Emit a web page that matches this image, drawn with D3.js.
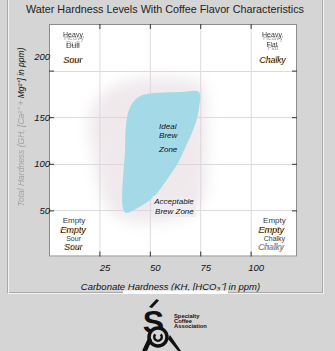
<!DOCTYPE html>
<html>
<head>
<meta charset="utf-8">
<script src="https://cdn.jsdelivr.net/npm/d3@7"></script>
<style>
  html, body { margin: 0; padding: 0; background: #d5d5d5; }
  svg { display: block; }
  text { font-family: "Liberation Sans", Arial, sans-serif; }
</style>
</head>
<body>
<svg id="chart" width="335" height="351"></svg>
<script>
// ---- Data ----------------------------------------------------------------
const titleText = "Water Hardness Levels With Coffee Flavor Characteristics";
const xTitle = "Carbonate Hardness (KH, [HCO₃⁻] in ppm)";
const yTitleFaint = "Total Hardness (GH, [Ca²⁺ + ";
const yTitleDark = "Mg²⁺] in ppm)";

const xTicks = [25, 50, 75, 100];
const yTicks = [50, 100, 150, 200];
const xDomain = [0, 123];
const yDomain = [0, 250];

// Ideal brew zone outline (KH ppm, GH ppm), clockwise from lower-left
const zoneKH = [37.7, 37.7, 38.2, 39.2, 41.7, 45.1, 50.1, 57.5, 66, 74.4, 74.4, 73.4, 71.4, 67.5, 64, 58.5, 51.6, 44];
const zoneGH = [48, 115, 141.6, 154.5, 166, 172.5, 175.4, 176.5, 177, 177, 160, 149, 136, 117, 101, 83, 64, 52.5];

// Acceptable brew zone haze around the ideal zone
const hazeKH = [20, 22, 25, 30, 40, 55, 68, 76, 78, 78, 76, 60, 42, 28];
const hazeGH = [150, 110, 75, 50, 38, 38, 45, 60, 100, 150, 185, 192, 190, 178];

// Zone labels (text, KH, GH baseline)
const zoneLabelText = ["Ideal", "Brew", "Zone"];
const zoneLabelKH = [54.6, 54.6, 54.6];
const zoneLabelGH = [137, 128, 113];
const acceptLabelText = ["Acceptable", "Brew Zone"];
const acceptLabelKH = [52.2, 52.6];
const acceptLabelGH = [57, 46];

// Flavour annotations in the four corners: text, KH, GH, size, style
const noteText  = ["Heavy", "Dull", "Sour",
                   "Heavy", "Flat", "Chalky",
                   "Empty", "Empty", "Sour", "Sour",
                   "Empty", "Empty", "Chalky", "Chalky"];
const noteKH    = [11.9, 11.9, 11.9,
                   110.6, 110.6, 111,
                   12.4, 12.0, 12.2, 12.2,
                   111.8, 110.3, 111.8, 110.3];
const noteGH    = [236, 224, 208,
                   236, 225.5, 208,
                   36, 25.5, 17, 8,
                   36, 25.5, 17.5, 7.5];
const noteSize  = [7, 8, 9,
                   7, 6.5, 8.5,
                   8, 9, 7, 8.5,
                   8, 9, 7, 8.3];
const noteStyle = ["doubleDown", "doubleUp", "italic",
                   "doubleDown", "doubleDown", "italic",
                   "plain", "italic", "plain", "italic",
                   "plain", "italic", "plain", "blue"];

const logoLines = ["Specialty", "Coffee", "Association"];

// ---- Layout --------------------------------------------------------------
const svg = d3.select("#chart");
const plot = { left: 49, right: 297, top: 24, bottom: 256.5 };

const x = d3.scaleLinear().domain(xDomain).range([plot.left, plot.right]);
const y = d3.scaleLinear().domain(yDomain).range([257, plot.top]);

const defs = svg.append("defs");
defs.append("filter").attr("id", "haze")
  .attr("x", "-30%").attr("y", "-30%").attr("width", "160%").attr("height", "160%")
  .append("feGaussianBlur").attr("stdDeviation", 7);
defs.append("clipPath").attr("id", "plotClip")
  .append("rect").attr("x", plot.left).attr("y", plot.top)
  .attr("width", plot.right - plot.left).attr("height", plot.bottom - plot.top);

// text effects: a faint doubled copy, and a coloured fringe on italic labels
function ghostFilter(id, dx, dy) {
  const f = defs.append("filter").attr("id", id)
    .attr("x", "-20%").attr("y", "-60%").attr("width", "140%").attr("height", "220%");
  f.append("feOffset").attr("in", "SourceAlpha").attr("dx", dx).attr("dy", dy).attr("result", "off");
  f.append("feFlood").attr("flood-color", "#8a8a8a").attr("flood-opacity", 0.85);
  f.append("feComposite").attr("in2", "off").attr("operator", "in").attr("result", "ghost");
  const m = f.append("feMerge");
  m.append("feMergeNode").attr("in", "ghost");
  m.append("feMergeNode").attr("in", "SourceGraphic");
}
ghostFilter("ghostDown", 1, 3);
ghostFilter("ghostUp", 0, -2.5);
(function fringe() {
  const f = defs.append("filter").attr("id", "fringe")
    .attr("x", "-20%").attr("y", "-40%").attr("width", "140%").attr("height", "180%");
  f.append("feOffset").attr("in", "SourceAlpha").attr("dx", -0.9).attr("dy", 0).attr("result", "off");
  f.append("feFlood").attr("flood-color", "#d9902e").attr("flood-opacity", 0.8);
  f.append("feComposite").attr("in2", "off").attr("operator", "in").attr("result", "edge");
  const m = f.append("feMerge");
  m.append("feMergeNode").attr("in", "edge");
  m.append("feMergeNode").attr("in", "SourceGraphic");
})();

// panel frame (etched border)
svg.append("rect").attr("x", 7.5).attr("y", -2).attr("width", 315).attr("height", 294.5)
  .attr("fill", "none").attr("stroke", "#a9a9a9");
svg.append("rect").attr("x", 8.5).attr("y", -1).attr("width", 315).attr("height", 294.5)
  .attr("fill", "none").attr("stroke", "#f3f3f3");

// title
svg.append("text").attr("x", 165).attr("y", 12.5)
  .attr("text-anchor", "middle").attr("font-size", 11).attr("fill", "#222")
  .attr("textLength", 278).attr("lengthAdjust", "spacingAndGlyphs")
  .text(titleText);

// plot background
svg.append("rect").attr("x", plot.left).attr("y", plot.top)
  .attr("width", plot.right - plot.left).attr("height", plot.bottom - plot.top)
  .attr("fill", "#ffffff");

const inner = svg.append("g").attr("clip-path", "url(#plotClip)");

// grid
inner.selectAll("line.gx").data(xTicks).join("line")
  .attr("x1", d => x(d) + 0.5).attr("x2", d => x(d) + 0.5)
  .attr("y1", plot.top).attr("y2", plot.bottom)
  .attr("stroke", "#dcdcdc").attr("stroke-width", 1);
inner.selectAll("line.gy").data(yTicks).join("line")
  .attr("y1", d => Math.round(y(d)) + 0.5).attr("y2", d => Math.round(y(d)) + 0.5)
  .attr("x1", plot.left).attr("x2", plot.right)
  .attr("stroke", "#dcdcdc").attr("stroke-width", 1);

// acceptable-zone haze
const hazePts = hazeKH.map((k, i) => [x(k), y(hazeGH[i])]);
inner.append("path")
  .attr("d", d3.line().curve(d3.curveCatmullRomClosed)(hazePts))
  .attr("fill", "#ddcfd7").attr("opacity", 0.45)
  .attr("filter", "url(#haze)");

// ideal brew zone
const zonePts = zoneKH.map((k, i) => [x(k), y(zoneGH[i])]);
inner.append("path")
  .attr("d", d3.line().curve(d3.curveCatmullRomClosed.alpha(0.5))(zonePts))
  .attr("fill", "#a4d9e7");

// zone labels
inner.selectAll("text.zl").data(zoneLabelText).join("text")
  .attr("x", (d, i) => x(zoneLabelKH[i])).attr("y", (d, i) => y(zoneLabelGH[i]))
  .attr("font-size", 8).attr("font-style", "italic").attr("fill", "#111")
  .text(d => d);

// acceptable zone label with light box
const ab = inner.append("g");
ab.append("rect")
  .attr("x", x(acceptLabelKH[0]) - 1.5).attr("y", y(acceptLabelGH[0]) - 8)
  .attr("width", 43).attr("height", 21)
  .attr("fill", "#efecf1");
ab.selectAll("text").data(acceptLabelText).join("text")
  .attr("x", (d, i) => x(acceptLabelKH[i])).attr("y", (d, i) => y(acceptLabelGH[i]))
  .attr("font-size", 8).attr("font-style", "italic").attr("fill", "#111")
  .text(d => d);

// corner flavour annotations
const notes = noteText.map((t, i) => ({ t, k: noteKH[i], g: noteGH[i], s: noteSize[i], st: noteStyle[i] }));
inner.selectAll("text.note").data(notes).join("text")
  .attr("class", "note")
  .attr("x", d => x(d.k)).attr("y", d => y(d.g))
  .attr("text-anchor", "middle").attr("font-size", d => d.s)
  .attr("font-style", d => (d.st === "italic" || d.st === "blue") ? "italic" : "normal")
  .attr("fill", d => d.st === "blue" ? "#5b86c8" : (d.st === "italic" ? "#111" : "#3a3a3a"))
  .attr("filter", d => d.st === "doubleDown" ? "url(#ghostDown)"
                     : d.st === "doubleUp" ? "url(#ghostUp)"
                     : (d.st === "italic" || d.st === "blue") ? "url(#fringe)" : null)
  .text(d => d.t);

// plot border
svg.append("rect").attr("x", plot.left + 0.5).attr("y", plot.top + 0.5)
  .attr("width", plot.right - plot.left - 1).attr("height", plot.bottom - plot.top - 1)
  .attr("fill", "none").attr("stroke", "#8c8c8c");

// axes (inward ticks on all sides)
const styleAxis = g => {
  g.select(".domain").remove();
  g.selectAll(".tick line").attr("stroke", "#333");
  g.selectAll(".tick text").attr("font-family", "Liberation Sans, Arial, sans-serif")
    .attr("font-style", "italic").attr("font-size", 9.5).attr("fill", "#111");
};
svg.append("g").attr("transform", `translate(${plot.left},0)`)
  .call(d3.axisLeft(y).tickValues(yTicks).tickSize(-5).tickPadding(-1))
  .call(styleAxis)
  .call(g => g.selectAll(".tick text").filter(d => d === d3.max(yTicks)).attr("dy", "-1.15em"));
svg.append("g").attr("transform", `translate(${plot.right},0)`)
  .call(d3.axisRight(y).tickValues(yTicks).tickSize(-5).tickFormat(""))
  .call(styleAxis);
svg.append("g").attr("transform", `translate(0,${plot.bottom})`)
  .call(d3.axisBottom(x).tickValues(xTicks).tickSize(-5).tickPadding(8))
  .call(styleAxis)
  .call(g => g.selectAll(".tick text").attr("dx", 5));
svg.append("g").attr("transform", `translate(0,${plot.top})`)
  .call(d3.axisTop(x).tickValues(xTicks).tickSize(-5).tickFormat(""))
  .call(styleAxis);

// axis titles
svg.append("text").attr("x", 170.5).attr("y", 290)
  .attr("text-anchor", "middle").attr("font-size", 9.5).attr("font-style", "italic")
  .attr("fill", "#111").text(xTitle);

const yt = svg.append("text")
  .attr("transform", "translate(24,127) rotate(-90)")
  .attr("text-anchor", "middle").attr("font-size", 8.5).attr("font-style", "italic");
yt.append("tspan").attr("fill", "#111").attr("opacity", 0.28).text(yTitleFaint);
yt.append("tspan").attr("fill", "#111").text(yTitleDark);

// strip under the axis title
svg.append("rect").attr("x", 123).attr("y", 290.5).attr("width", 105).attr("height", 3.5)
  .attr("fill", "#ffffff");

// SCA logo: accent, S, ring with C, and the two legs
const logo = svg.append("g").attr("fill", "#111");
logo.append("path").attr("d", "M149,307 L156.5,299 L159,300.5 L152,308 Z");
logo.append("text").attr("x", 153.5).attr("y", 333).attr("text-anchor", "middle")
  .attr("font-family", "DejaVu Sans, sans-serif").attr("font-weight", "bold")
  .attr("font-size", 32).text("S");
logo.append("circle").attr("cx", 158).attr("cy", 337).attr("r", 9)
  .attr("fill", "#d5d5d5").attr("stroke", "#111").attr("stroke-width", 3.5);
logo.append("path")
  .attr("d", d3.arc().innerRadius(2.6).outerRadius(5)
    .startAngle(Math.PI * 0.25).endAngle(Math.PI * 1.75)())
  .attr("transform", "translate(158,337)");
logo.append("path").attr("d", "M142,351 L149,336 L152,340 L147,351 Z");
logo.append("path").attr("d", "M178,351 L168,339 L170,335 L181,351 Z");
logo.selectAll("text.l").data(logoLines).join("text")
  .attr("x", 174).attr("y", (d, i) => 317.5 + i * 5.2)
  .attr("font-size", 5.8).attr("font-weight", "bold").text(d => d);
</script>
</body>
</html>
